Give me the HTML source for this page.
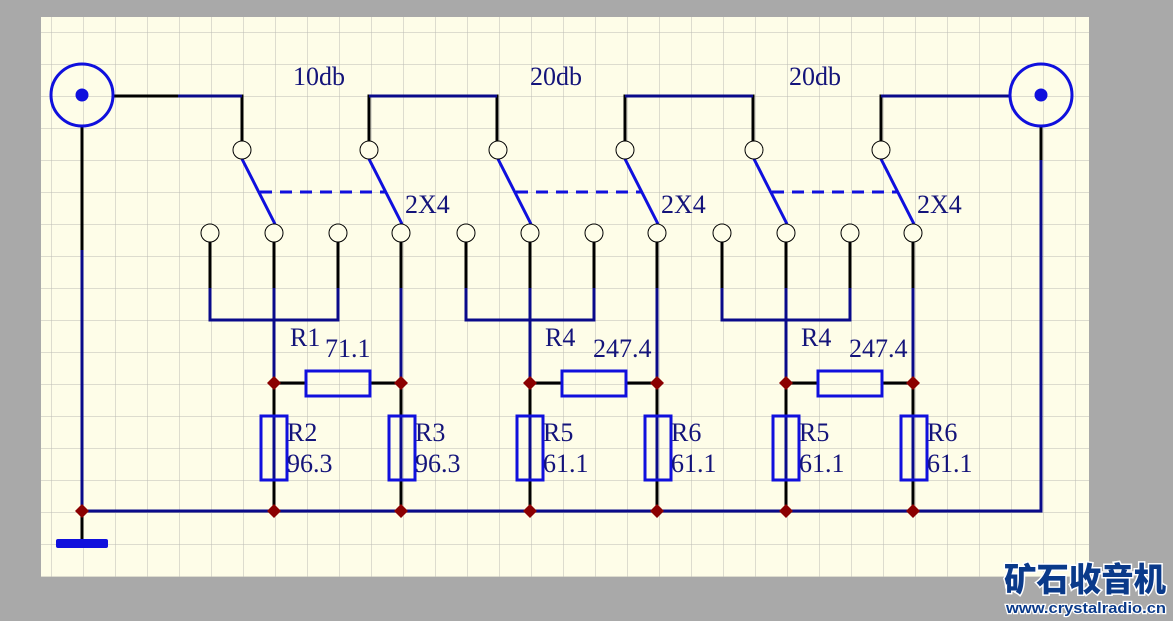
<!DOCTYPE html>
<html><head><meta charset="utf-8"><style>
html,body{margin:0;padding:0;background:#a9a9a9;}
svg{display:block;}
text{font-family:"Liberation Serif",serif;fill:#14147a;font-size:26px;}
</style></head><body>
<svg width="1173" height="621" viewBox="0 0 1173 621" xmlns="http://www.w3.org/2000/svg">
<defs>
<pattern id="g" x="19" y="0.5" width="32" height="32" patternUnits="userSpaceOnUse">
<path d="M0 0H32M0 0V32" stroke="#bcbcb4" stroke-width="1" fill="none"/>
</pattern>
</defs>
<rect width="1173" height="621" fill="#a9a9a9"/>
<rect x="41" y="17" width="1048" height="560" fill="#fefde8"/>
<rect x="41" y="17" width="1048" height="560" fill="url(#g)"/>

<g fill="none" stroke-width="3">
<path d="M82 126V511" stroke="#0a0a8a"/>
<path d="M82 126V250" stroke="#000"/>
<path d="M82 511H1041V126" stroke="#0a0a8a"/>
<path d="M1041 126V160" stroke="#000"/>
<path d="M82 511V543" stroke="#000"/>
<path d="M113 96H242V141" stroke="#000"/>
<path d="M178 96H242" stroke="#0a0a8a"/>
<path d="M369 141V96H497V141" stroke="#000"/>
<path d="M369 96H497" stroke="#0a0a8a"/>
<path d="M625 141V96H753V141" stroke="#000"/>
<path d="M625 96H753" stroke="#0a0a8a"/>
<path d="M881 141V96H1010" stroke="#000"/>
<path d="M881 96H1010" stroke="#0a0a8a"/>
</g>

<g id="s">
<g fill="none" stroke-width="3">
<path d="M210 242V320H338V242" stroke="#0a0a8a"/>
<path d="M210 242V288M338 242V288" stroke="#000"/>
<path d="M274 242V511M401 242V511" stroke="#0a0a8a"/>
<path d="M274 242V288M401 242V288" stroke="#000"/>
<path d="M274 383V416M401 383V416M274 480V511M401 480V511M274 383H306M370 383H401" stroke="#000"/>
<path d="M242 159L275 224M369 159L402 224" stroke="#1010dd"/>
<path d="M260 192H386" stroke="#1010dd" stroke-dasharray="12,8"/>
<rect x="306" y="371" width="64" height="25" stroke="#1010dd"/>
<rect x="261" y="416" width="26" height="64" stroke="#1010dd"/>
<rect x="389" y="416" width="26" height="64" stroke="#1010dd"/>
</g>
<g fill="#fefde8" stroke="#000" stroke-width="1">
<circle cx="242" cy="150" r="9"/><circle cx="369" cy="150" r="9"/>
<circle cx="210" cy="233" r="9"/><circle cx="274" cy="233" r="9"/>
<circle cx="338" cy="233" r="9"/><circle cx="401" cy="233" r="9"/>
</g>
<g fill="#8b0000">
<path d="M274 376l7 7-7 7-7-7z"/><path d="M401 376l7 7-7 7-7-7z"/>
<path d="M274 504l7 7-7 7-7-7z"/><path d="M401 504l7 7-7 7-7-7z"/>
</g>
<text x="405" y="213">2X4</text>
</g>
<use href="#s" x="256"/>
<use href="#s" x="512"/>
<path d="M82 504l7 7-7 7-7-7z" fill="#8b0000"/>

<g fill="none" stroke="#1010dd" stroke-width="3">
<circle cx="82" cy="95" r="31"/><circle cx="1041" cy="95" r="31"/>
</g>
<circle cx="82" cy="95" r="6.5" fill="#1010dd"/>
<circle cx="1041" cy="95" r="6.5" fill="#1010dd"/>
<rect x="56" y="539" width="52" height="9" rx="2" fill="#1010dd"/>

<text x="293" y="85">10db</text>
<text x="530" y="85">20db</text>
<text x="789" y="85">20db</text>
<text x="290" y="346">R1</text><text x="325" y="357">71.1</text>
<text x="545" y="346">R4</text><text x="593" y="357">247.4</text>
<text x="801" y="346">R4</text><text x="849" y="357">247.4</text>
<text x="287" y="441">R2</text><text x="287" y="472">96.3</text>
<text x="415" y="441">R3</text><text x="415" y="472">96.3</text>
<text x="543" y="441">R5</text><text x="543" y="472">61.1</text>
<text x="671" y="441">R6</text><text x="671" y="472">61.1</text>
<text x="799" y="441">R5</text><text x="799" y="472">61.1</text>
<text x="927" y="441">R6</text><text x="927" y="472">61.1</text>

<text x="1004" y="591" style="font-family:'Noto Sans CJK SC',sans-serif;font-weight:900;font-size:33px;fill:#0a3a8a;stroke:#fff;stroke-width:3;paint-order:stroke" textLength="162" lengthAdjust="spacingAndGlyphs">矿石收音机</text>
<text x="1006" y="613" style="font-family:'Liberation Sans',sans-serif;font-weight:bold;font-size:15px;fill:#0a3a8a;stroke:#fff;stroke-width:2.5;paint-order:stroke" textLength="160" lengthAdjust="spacingAndGlyphs">www.crystalradio.cn</text>
</svg>
</body></html>
